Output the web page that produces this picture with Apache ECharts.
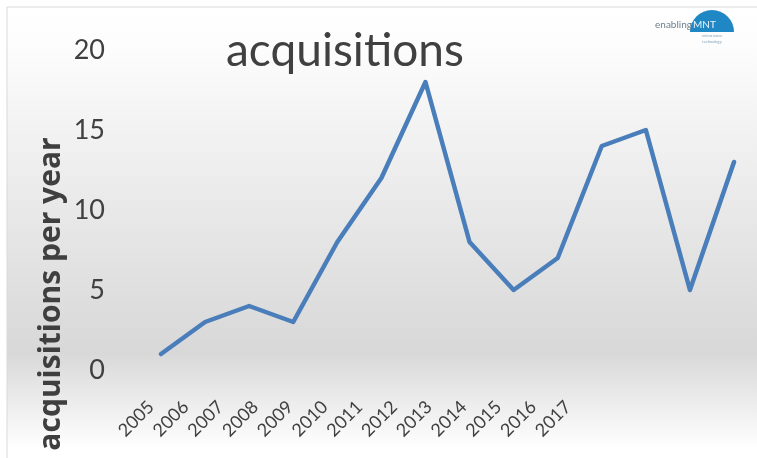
<!DOCTYPE html>
<html>
<head>
<meta charset="utf-8">
<script src="https://cdn.jsdelivr.net/npm/echarts@6/dist/echarts.min.js"></script>
<style>
  html, body { margin: 0; padding: 0; background: #ffffff; }
  #chart { width: 757px; height: 458px; }
</style>
</head>
<body>
<div id="chart"></div>
<script>
// Year labels shown under the plot
const years = ['2005', '2006', '2007', '2008', '2009', '2010', '2011',
               '2012', '2013', '2014', '2015', '2016', '2017'];
// Acquisitions counted per year (the last point carries no year label)
const acquisitions = [1, 3, 4, 3, 8, 12, 18, 8, 5, 7, 14, 15, 5, 13];
// Value axis ticks
const yTicks = [0, 5, 10, 15, 20];

const chart = echarts.init(document.getElementById('chart'), null, { renderer: 'canvas' });

const lineData = acquisitions.map((v, i) => [i, v]);

chart.setOption({
  animation: false,
  textStyle: { fontFamily: 'Lato' },
  title: {
    text: 'acquisitions',
    left: 226,
    top: 28,
    padding: 0,
    textStyle: { fontFamily: 'Lato', fontSize: 46, fontWeight: 'normal', color: '#404040' }
  },
  graphic: [
    // panel background with frame
    {
      type: 'rect', z: -10, silent: true,
      shape: { x: 7, y: 7, width: 760, height: 460 },
      style: {
        fill: new echarts.graphic.LinearGradient(0, 0, 0, 1, [
          { offset: 0, color: '#ffffff' },
          { offset: 0.08, color: '#fdfdfd' },
          { offset: 0.45, color: '#e8e8e8' },
          { offset: 0.75, color: '#d8d8d8' },
          { offset: 0.96, color: '#ffffff' },
          { offset: 1, color: '#ffffff' }
        ]),
        stroke: '#d9d9d9', lineWidth: 1
      }
    },
    // axis title
    {
      type: 'text', silent: true,
      x: 51, y: 294, rotation: Math.PI / 2,
      style: {
        text: 'acquisitions per year',
        fontFamily: 'Open Sans', fontSize: 30, fontWeight: 'bold',
        fill: '#3f3f3f', align: 'center', verticalAlign: 'middle'
      }
    },
    // logo
    {
      type: 'sector', silent: true,
      shape: { cx: 712, cy: 32, r: 22, r0: 0, startAngle: Math.PI, endAngle: Math.PI * 2 },
      style: { fill: '#1f87c4' }
    },
    {
      type: 'text', silent: true, x: 692, y: 25,
      style: { text: 'enabling', fontFamily: 'Lato', fontSize: 10, fill: '#6a7f8e', align: 'right', verticalAlign: 'middle' }
    },
    {
      type: 'text', silent: true, x: 693, y: 25,
      style: { text: 'MNT', fontFamily: 'Lato', fontSize: 10, fill: '#e9f4fb', align: 'left', verticalAlign: 'middle' }
    },
    {
      type: 'text', silent: true, x: 712, y: 36,
      style: { text: 'micro nano', fontFamily: 'Lato', fontSize: 4, fill: '#7fa3bd', align: 'center', verticalAlign: 'middle' }
    },
    {
      type: 'text', silent: true, x: 712, y: 42,
      style: { text: 'technology', fontFamily: 'Lato', fontSize: 4, fill: '#7fa3bd', align: 'center', verticalAlign: 'middle' }
    }
  ],
  grid: [
    { left: 161, top: 50, width: 573, height: 320 },
    { left: 151, top: 100, width: 417, height: 298 }
  ],
  xAxis: [
    {
      gridIndex: 0, type: 'value', min: 0, max: acquisitions.length - 1,
      show: false
    },
    {
      gridIndex: 1, type: 'category', data: years, boundaryGap: false,
      axisLine: { show: false }, axisTick: { show: false }, splitLine: { show: false },
      axisLabel: {
        interval: 0, rotate: 45, margin: 6,
        fontFamily: 'Lato', fontSize: 18, color: '#404040'
      }
    }
  ],
  yAxis: [
    {
      gridIndex: 0, type: 'value', min: yTicks[0], max: yTicks[yTicks.length - 1], interval: 5,
      axisLine: { show: false }, axisTick: { show: false }, splitLine: { show: false },
      axisLabel: { margin: 56, fontFamily: 'Lato', fontSize: 27, color: '#404040' }
    },
    {
      gridIndex: 1, type: 'value', min: 0, max: 1, show: false
    }
  ],
  series: [
    {
      type: 'line', xAxisIndex: 0, yAxisIndex: 0,
      data: lineData,
      showSymbol: false, symbol: 'none',
      lineStyle: { color: '#4a7ebb', width: 4.5, join: 'round', cap: 'round' },
      z: 3
    }
  ]
});
</script>
</body>
</html>
